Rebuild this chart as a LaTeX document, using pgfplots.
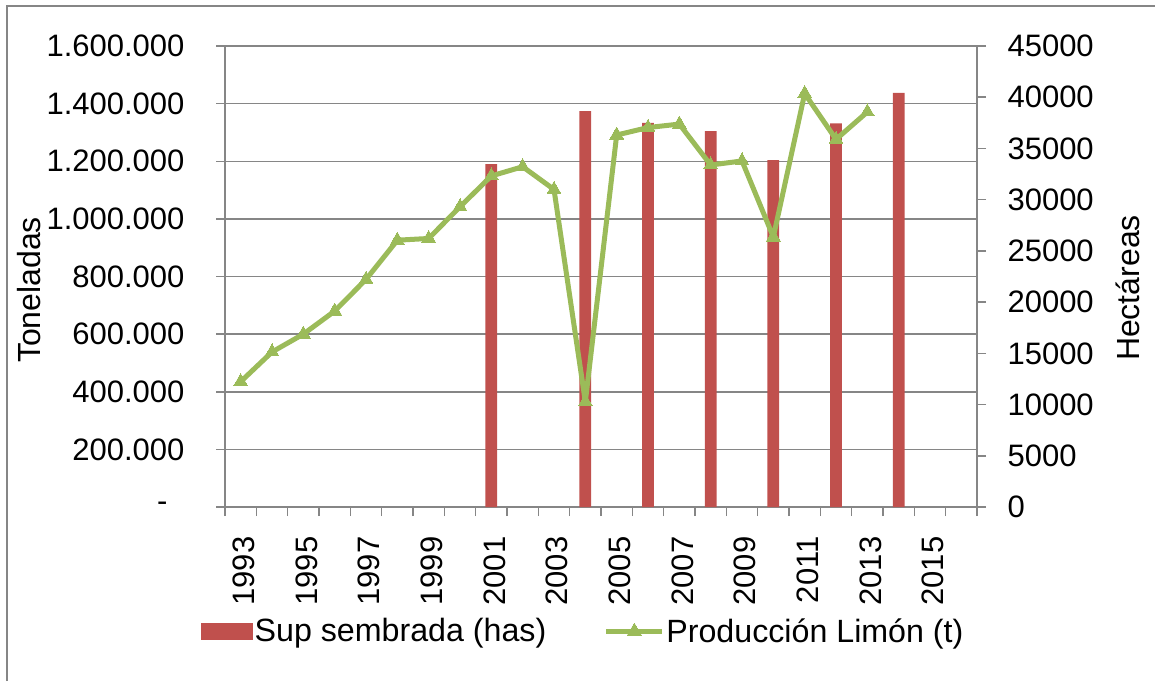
\documentclass[border=0pt]{standalone}
\usepackage{fontspec}
\setmainfont{Liberation Sans}
\usepackage{pgfplots}
\pgfplotsset{compat=1.18}
\definecolor{barred}{HTML}{C0504D}
\definecolor{lgreen}{HTML}{9BBB59}
\definecolor{axgray}{HTML}{868686}
\newcommand{\tickfont}{\fontsize{31}{36}\selectfont}
\pgfplotsset{
  base/.style={at={(225pt,174pt)}, anchor=south west, scale only axis,
    width=752pt, height=461pt, xmin=-0.5, xmax=23.5,
    scaled y ticks=false, scaled x ticks=false,
    major tick length=9pt, tick align=outside,
    tick style={axgray, line width=1.5pt},
    axis line style={axgray, line width=1.5pt},
    ticklabel style={font=\tickfont}},
  barlegend/.style={legend image code/.code={\fill[##1] (0pt,-8.5pt) rectangle (52pt,8.5pt);}},
  linelegend/.style={legend image code/.code={\draw[mark repeat=2, mark phase=2, ##1] plot coordinates {(0pt,0pt) (28pt,0pt) (56pt,0pt)};}},
}
\begin{document}
\begin{tikzpicture}
\useasboundingbox (0,0) rectangle (1155pt,681pt);
\draw[axgray, line width=1.5pt] (7pt,0pt) -- (7pt,675pt) -- (1155pt,675pt);
% base axis: gridlines, left axis, x axis
\begin{axis}[base, ymin=0, ymax=1600000,
  axis x line*=bottom, axis y line*=left,
  ytick={0,200000,400000,600000,800000,1000000,1200000,1400000,1600000},
  yticklabels={{-\hspace*{17pt}},200.000,400.000,600.000,800.000,1.000.000,1.200.000,1.400.000,1.600.000},
  yticklabel style={xshift=-28pt},
  ymajorgrids, grid style={axgray, line width=1.5pt},
  xtick={-0.5,0.5,...,23.5}, xticklabels={},
  extra x ticks={0,2,...,22},
  extra x tick labels={1993,1995,1997,1999,2001,2003,2005,2007,2009,2011,2013,2015},
  extra x tick style={major tick length=0pt, grid=none},
  xticklabel style={rotate=90, anchor=east, xshift=-26pt, yshift=-3pt}]
\addplot[draw=none] coordinates {(0,0)};
\end{axis}
% bars on the right axis
\begin{axis}[base, ymin=0, ymax=45000,
  axis y line*=right, axis x line=none,
  ytick={0,5000,10000,15000,20000,25000,30000,35000,40000,45000},
  yticklabels={0,5000,10000,15000,20000,25000,30000,35000,40000,45000},
  yticklabel style={xshift=18pt},
  ybar, bar width=11.7pt]
\addplot[fill=barred, draw=none] coordinates {
  (8,33470) (11,38640) (13,37500) (15,36690) (17,33860) (19,37440) (21,40430)};
\end{axis}
% line on the left axis
\begin{axis}[base, ymin=0, ymax=1600000, axis lines=none, xtick=\empty, ytick=\empty,
  legend columns=2,
  legend style={at={(rel axis cs:-0.036,-0.269)}, anchor=west, draw=none, fill=none,
    font=\fontsize{32.2}{37}\selectfont, nodes={inner sep=1.5pt},
    /tikz/every even column/.append style={column sep=56pt}},
  legend cell align=left]
\addlegendimage{area legend, fill=barred, draw=none, barlegend}
\addlegendentry{Sup sembrada (has)}
\addplot[lgreen, line width=5pt, line join=round, mark=triangle*, mark size=8pt,
  mark options={solid, line width=0pt}, linelegend]
  coordinates {
  (0,435000) (1,538000) (2,600000) (3,680000) (4,790000) (5,926000) (6,932000)
  (7,1042000) (8,1149000) (9,1181000) (10,1102000) (11,365000) (12,1291000)
  (13,1317000) (14,1329000) (15,1187000) (16,1201000) (17,937000) (18,1435000)
  (19,1276000) (20,1371000)};
\addlegendentry{Producción Limón (t)}
\end{axis}
\node[rotate=90, font=\fontsize{32}{38}\selectfont] at (29pt,391pt) {Toneladas};
\node[rotate=90, font=\fontsize{32}{38}\selectfont] at (1128pt,393pt) {Hectáreas};
\end{tikzpicture}
\end{document}
